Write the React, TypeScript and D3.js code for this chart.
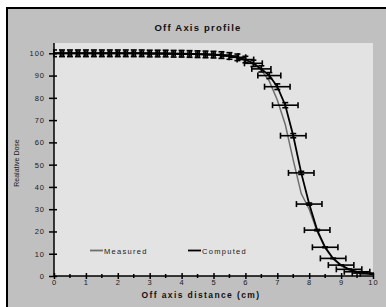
import React, { useEffect, useRef } from "react";
import * as d3 from "d3";

// off axis distance (cm) of each sample
const distance = [
  0, 0.25, 0.5, 0.75, 1, 1.25, 1.5, 1.75, 2, 2.25, 2.5, 2.75, 3, 3.25, 3.5, 3.75, 4, 4.25, 4.5, 4.75,
  5, 5.25, 5.5, 5.75, 6, 6.25, 6.5, 6.75, 7, 7.25, 7.5, 7.75, 8, 8.25, 8.5, 8.75, 9, 9.25, 9.5, 9.75, 10,
];

const measured = [
  100, 100, 100, 100, 100, 100, 100, 100, 100, 100, 100, 100, 99.9, 99.9, 99.9, 99.8, 99.8, 99.7, 99.6, 99.5,
  99.4, 99.1, 98.7, 98, 96.8, 95, 92.5, 87.5, 79, 68, 52, 37, 30, 20, 12.5, 7.6, 4.6, 2.8, 1.7, 1.2, 0.9,
];

const computed = [
  100, 100, 100, 100, 100, 100, 100, 100, 100, 100, 100, 100, 99.9, 99.9, 99.9, 99.8, 99.8, 99.7, 99.6, 99.5,
  99.4, 99.2, 98.8, 98.2, 97.2, 95.5, 93, 90, 85, 76.7, 63, 46.3, 32.3, 20.6, 12.9, 7.9, 4.9, 3.0, 1.9, 1.3, 1.0,
];

// horizontal error (cm) on the computed points
const distErr = [
  0.3, 0.3, 0.3, 0.3, 0.3, 0.3, 0.3, 0.3, 0.3, 0.3, 0.3, 0.3, 0.3, 0.3, 0.3, 0.3, 0.3, 0.3, 0.3, 0.3,
  0.3, 0.3, 0.28, 0.26, 0.26, 0.28, 0.3, 0.36, 0.4, 0.4, 0.4, 0.4, 0.4, 0.4, 0.4, 0.4, 0.4, 0.4, 0.4, 0.4, 0.4,
];
const doseErrPct = 1.5;

const xTicks = [0, 1, 2, 3, 4, 5, 6, 7, 8, 9, 10];
const xMinorTicks = [0.5, 1.5, 2.5, 3.5, 4.5, 5.5, 6.5, 7.5, 8.5, 9.5];
const yTicks = [0, 10, 20, 30, 40, 50, 60, 70, 80, 90, 100];

const FONT = "'Liberation Sans', Arial, sans-serif";

export default function App() {
  const ref = useRef<SVGSVGElement>(null);

  useEffect(() => {
    const svg = d3.select(ref.current);
    svg.selectAll("*").remove();

    const left = 54, right = 373, top = 43, bottom = 276;
    const x = d3.scaleLinear().domain([0, 10]).range([left, right]);
    const y = d3.scaleLinear().domain([0, 100]).range([bottom, 53.3]);

    // chart frame
    svg.append("rect").attr("x", 7).attr("y", 8).attr("width", 400).attr("height", 320)
      .attr("fill", "#c0c0c0").attr("stroke", "#000").attr("stroke-width", 2);

    // plot area
    svg.append("rect").attr("x", left).attr("y", top).attr("width", right - left).attr("height", bottom - top)
      .attr("fill", "#e3e3e3");

    svg.append("clipPath").attr("id", "plotclip")
      .append("rect").attr("x", left - 1).attr("y", 0).attr("width", right - left + 2).attr("height", 307);

    const plot = svg.append("g").attr("clip-path", "url(#plotclip)");

    const pts = distance.map((d, i) => ({ d, m: measured[i], c: computed[i], e: distErr[i] }));

    const lineM = d3.line<any>().x(p => x(p.d)).y(p => y(p.m));
    const lineC = d3.line<any>().x(p => x(p.d)).y(p => y(p.c));

    plot.append("path").datum(pts).attr("d", lineM).attr("fill", "none")
      .attr("stroke", "#6e6e6e").attr("stroke-width", 1.5);
    plot.append("path").datum(pts).attr("d", lineC).attr("fill", "none")
      .attr("stroke", "#000").attr("stroke-width", 1.8);

    // error bars on computed
    const cap = 3;
    const eb = plot.append("g").attr("stroke", "#000").attr("stroke-width", 1.6).attr("fill", "none");
    pts.forEach(p => {
      const cx = x(p.d), cy = y(p.c);
      const x0 = x(p.d - p.e), x1 = x(p.d + p.e);
      eb.append("line").attr("x1", x0).attr("x2", x1).attr("y1", cy).attr("y2", cy);
      eb.append("line").attr("x1", x0).attr("x2", x0).attr("y1", cy - cap).attr("y2", cy + cap);
      eb.append("line").attr("x1", x1).attr("x2", x1).attr("y1", cy - cap).attr("y2", cy + cap);
      const dv = p.c * doseErrPct / 100;
      const y0 = y(p.c - dv), y1 = y(p.c + dv);
      eb.append("line").attr("x1", cx).attr("x2", cx).attr("y1", y0).attr("y2", y1);
      eb.append("line").attr("x1", cx - cap).attr("x2", cx + cap).attr("y1", y0).attr("y2", y0);
      eb.append("line").attr("x1", cx - cap).attr("x2", cx + cap).attr("y1", y1).attr("y2", y1);
    });

    // y axis
    const yAxis = svg.append("g").attr("transform", `translate(${left},0)`)
      .call(d3.axisLeft(y).tickValues(yTicks).tickSize(5).tickPadding(4).tickSizeOuter(0));
    yAxis.select(".domain").remove();
    yAxis.append("line").attr("x1", 0).attr("x2", 0).attr("y1", top).attr("y2", bottom)
      .attr("stroke", "#000").attr("stroke-width", 1.5);
    yAxis.selectAll(".tick line").attr("x1", 3).attr("x2", -5).attr("stroke-width", 1.5);
    yAxis.selectAll(".tick text").attr("font-family", FONT).attr("font-size", 7.5)
      .attr("letter-spacing", 1).attr("fill", "#1a1a1a");

    // x axis
    const xAxis = svg.append("g").attr("transform", `translate(0,${bottom})`)
      .call(d3.axisBottom(x).tickValues(xTicks).tickSize(3).tickSizeOuter(0));
    xAxis.select(".domain").remove();
    xAxis.append("line").attr("x1", left).attr("x2", right).attr("y1", 0).attr("y2", 0)
      .attr("stroke", "#000").attr("stroke-width", 1.5);
    xAxis.selectAll(".tick line").attr("y1", -3).attr("y2", 3).attr("stroke-width", 1.5);
    xAxis.selectAll(".tick text").attr("font-family", FONT).attr("font-size", 7.5)
      .attr("letter-spacing", 1).attr("fill", "#1a1a1a").attr("dy", null).attr("y", 9);
    xAxis.selectAll(".minor").data(xMinorTicks).join("line").attr("class", "minor")
      .attr("x1", d => x(d)).attr("x2", d => x(d)).attr("y1", -2).attr("y2", 2)
      .attr("stroke", "#000").attr("stroke-width", 1.5);

    // titles
    svg.append("text").attr("x", 198).attr("y", 30.5).attr("text-anchor", "middle")
      .attr("font-family", FONT).attr("font-size", 9.5).attr("font-weight", "bold")
      .attr("letter-spacing", 1.2).attr("fill", "#111").text("Off Axis profile");

    svg.append("text").attr("x", 201).attr("y", 298).attr("text-anchor", "middle")
      .attr("font-family", FONT).attr("font-size", 8.5).attr("font-weight", "bold")
      .attr("letter-spacing", 1.4).attr("fill", "#111").text("Off axis distance (cm)");

    svg.append("text").attr("transform", "translate(19,163) rotate(-90)").attr("text-anchor", "middle")
      .attr("font-family", FONT).attr("font-size", 7).attr("fill", "#1a1a1a").text("Realative Dose");

    // legend
    const legend = [
      { name: "Measured", color: "#6e6e6e", x: 90 },
      { name: "Computed", color: "#000", x: 188 },
    ];
    legend.forEach(l => {
      svg.append("line").attr("x1", l.x).attr("x2", l.x + 13).attr("y1", 250.5).attr("y2", 250.5)
        .attr("stroke", l.color).attr("stroke-width", 1.8);
      svg.append("text").attr("x", l.x + 14).attr("y", 253.5)
        .attr("font-family", FONT).attr("font-size", 7.5).attr("letter-spacing", 1.3)
        .attr("fill", "#1a1a1a").text(l.name);
    });
  }, []);

  return (
    <svg ref={ref} width={386} height={307}
      style={{ position: "absolute", left: 0, top: 0, display: "block" }} />
  );
}
